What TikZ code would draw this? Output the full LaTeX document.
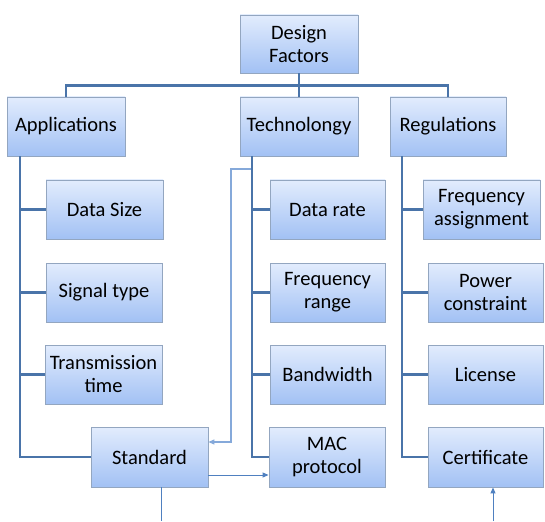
\documentclass[tikz,border=0pt]{standalone}
\usepackage{fontspec}
\setmainfont{Carlito}
\usetikzlibrary{arrows.meta,shadows}
\definecolor{boxtop}{HTML}{E2ECFD}
\definecolor{boxbot}{HTML}{A2C1F4}
\definecolor{boxline}{HTML}{93A6C0}
\definecolor{trunk}{HTML}{4A74A9}
\definecolor{thin}{HTML}{4F80C0}
\definecolor{thinlight}{HTML}{85A9DA}
\begin{document}
\begin{tikzpicture}[x=1pt,y=-1pt,
  fbox/.style={rectangle, draw=boxline, line width=0.9pt, top color=boxtop, bottom color=boxbot,
    minimum width=117pt, minimum height=59pt, inner sep=1pt, align=center,
    font=\fontsize{20.5}{23}\selectfont,
    drop shadow={shadow xshift=1pt, shadow yshift=-1pt, opacity=0.25, fill=black}},
  conn/.style={draw=trunk, line width=2.4pt, line join=miter, line cap=butt},
  thinarrow/.style={draw=thin, line width=1pt, -{Triangle[length=6pt,width=5pt]}},
  thinline/.style={draw=thin, line width=1pt},
]
\useasboundingbox (0,0) rectangle (545,521);
\fill[white] (0,0) rectangle (545,521);

% top level
\node[fbox, minimum width=118pt, minimum height=58pt] (df) at (299,44) {Design\\Factors};
\node[fbox, minimum width=118pt] (app) at (66,126.5) {Applications};
\node[fbox, minimum width=118pt] (tech) at (299,126.5) {Technolongy};
\node[fbox, minimum width=116pt] (reg) at (448,126.5) {Regulations};

% applications
\node[fbox] (ds) at (104.5,209.5) {Data Size};
\node[fbox, minimum width=116pt] (st) at (104,292.5) {Signal type};
\node[fbox] (tt) at (103.5,374.5) {Transmission\\time};
\node[fbox, minimum height=60pt] (std) at (149.5,457) {Standard};

% technology
\node[fbox, minimum width=115pt] (dr) at (327.5,209.5) {Data rate};
\node[fbox, minimum width=115pt] (fr) at (327.5,292.5) {Frequency\\range};
\node[fbox, minimum width=115pt] (bw) at (327.5,374.5) {Bandwidth};
\node[fbox, minimum width=116pt, minimum height=60pt] (mac) at (327,457) {MAC\\protocol};

% regulations
\node[fbox] (fa) at (481.5,209.5) {Frequency\\assignment};
\node[fbox, minimum width=115pt] (pc) at (485.5,292.5) {Power\\constraint};
\node[fbox, minimum width=115pt] (lic) at (485.5,374.5) {License};
\node[fbox, minimum width=115pt, minimum height=60pt] (cert) at (485.5,457) {Certificate};

% trunk coordinates
\coordinate (aT) at (20,0);
\coordinate (tT) at (252,0);
\coordinate (rT) at (402,0);

% top bus
\draw[conn] (df.south) -- (tech.north);
\draw[conn] (app.north) -- ++(0,-11) -| (reg.north);

% applications trunk
\draw[conn] (app.south -| aT) |- (std.west);
\draw[conn] (aT |- ds.west) -- (ds.west);
\draw[conn] (aT |- st.west) -- (st.west);
\draw[conn] (aT |- tt.west) -- (tt.west);

% technology trunk
\draw[conn] (tech.south -| tT) |- (mac.west);
\draw[conn] (tT |- dr.west) -- (dr.west);
\draw[conn] (tT |- fr.west) -- (fr.west);
\draw[conn] (tT |- bw.west) -- (bw.west);

% regulations trunk
\draw[conn] (reg.south -| rT) |- (cert.west);
\draw[conn] (rT |- fa.west) -- (fa.west);
\draw[conn] (rT |- pc.west) -- (pc.west);
\draw[conn] (rT |- lic.west) -- (lic.west);

% thin connectors
\coordinate (loopA) at (251,169);
\coordinate (loopB) at (231,169);
\coordinate (loopC) at (231,442);
\draw[thinarrow, draw=thinlight, line width=1.3pt] (loopA) -- (loopB) -- (loopC) -- (std.east |- loopC);
\coordinate (sm) at (0,475);
\draw[thinarrow] (std.east |- sm) -- (mac.west |- sm);
\coordinate (stdEnd) at (161,521);
\draw[thinline] (std.south -| stdEnd) -- (stdEnd);
\coordinate (certStart) at (493,521);
\draw[thinarrow] (certStart) -- (cert.south -| certStart);
\end{tikzpicture}
\end{document}
